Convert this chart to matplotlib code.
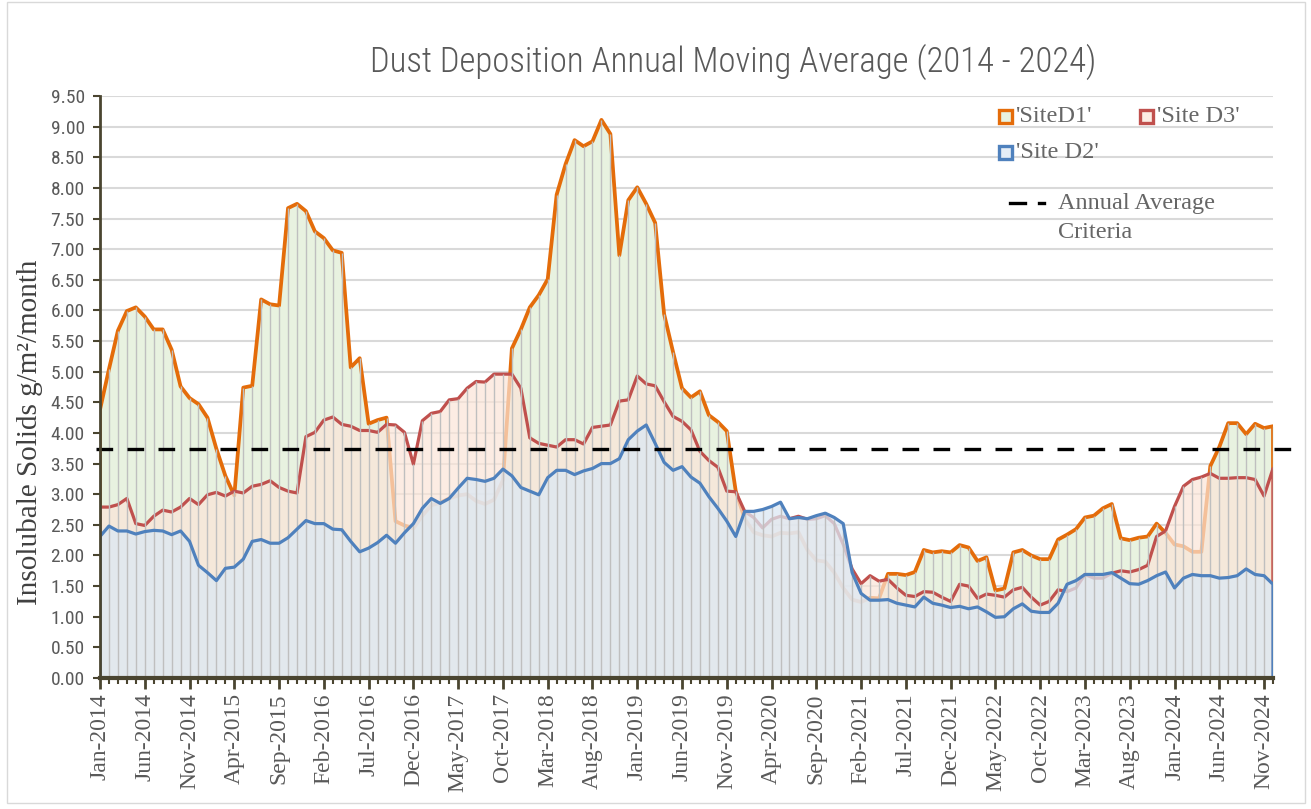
import matplotlib
matplotlib.use('Agg')
import matplotlib.pyplot as plt
from matplotlib import font_manager as fm
from matplotlib.patches import Rectangle
from matplotlib.lines import Line2D
import numpy as np

# ---------------- data (monthly, Jan-2014 .. Dec-2024) ----------------
site_d1 = [4.38, 5.04, 5.67, 5.99, 6.05, 5.90, 5.69, 5.69, 5.36, 4.76, 4.57, 4.47,
           4.25, 3.74, 3.30, 2.98, 4.74, 4.77, 6.18, 6.10, 6.08, 7.67, 7.74, 7.62,
           7.29, 7.18, 6.98, 6.94, 5.07, 5.22, 4.15, 4.21, 4.25, 2.56, 2.49, 2.44,
           2.65, 2.82, 2.86, 2.93, 2.98, 3.00, 2.89, 2.84, 2.91, 3.23, 5.38, 5.69,
           6.05, 6.25, 6.51, 7.89, 8.39, 8.78, 8.68, 8.76, 9.11, 8.88, 6.90, 7.80,
           8.01, 7.74, 7.43, 5.94, 5.32, 4.73, 4.58, 4.68, 4.29, 4.18, 4.03, 3.05,
           2.60, 2.38, 2.33, 2.31, 2.37, 2.36, 2.38, 2.09, 1.92, 1.90, 1.72, 1.47,
           1.28, 1.24, 1.31, 1.30, 1.70, 1.70, 1.68, 1.73, 2.09, 2.05, 2.07, 2.05,
           2.17, 2.13, 1.91, 1.97, 1.43, 1.46, 2.05, 2.09, 2.00, 1.94, 1.94, 2.26,
           2.34, 2.43, 2.62, 2.65, 2.77, 2.84, 2.28, 2.25, 2.29, 2.31, 2.52, 2.37,
           2.18, 2.15, 2.06, 2.06, 3.46, 3.77, 4.16, 4.16, 3.98, 4.15, 4.08, 4.11]

site_d3 = [2.79, 2.79, 2.83, 2.93, 2.52, 2.49, 2.64, 2.74, 2.71, 2.79, 2.93, 2.83,
           2.99, 3.03, 2.97, 3.05, 3.02, 3.13, 3.16, 3.22, 3.11, 3.05, 3.02, 3.94,
           4.01, 4.21, 4.26, 4.14, 4.11, 4.04, 4.04, 4.01, 4.14, 4.13, 4.01, 3.49,
           4.20, 4.32, 4.35, 4.54, 4.56, 4.73, 4.84, 4.83, 4.96, 4.96, 4.96, 4.73,
           3.92, 3.83, 3.80, 3.77, 3.89, 3.89, 3.82, 4.09, 4.11, 4.13, 4.52, 4.54,
           4.93, 4.80, 4.77, 4.51, 4.27, 4.19, 4.05, 3.70, 3.55, 3.44, 3.05, 3.04,
           2.72, 2.62, 2.45, 2.59, 2.64, 2.60, 2.64, 2.59, 2.60, 2.65, 2.52, 2.18,
           1.78, 1.54, 1.67, 1.58, 1.61, 1.47, 1.35, 1.33, 1.41, 1.40, 1.32, 1.25,
           1.53, 1.50, 1.30, 1.37, 1.35, 1.32, 1.44, 1.48, 1.32, 1.19, 1.25, 1.44,
           1.41, 1.47, 1.69, 1.63, 1.63, 1.71, 1.75, 1.73, 1.77, 1.84, 2.31, 2.40,
           2.80, 3.13, 3.24, 3.28, 3.34, 3.26, 3.26, 3.27, 3.27, 3.24, 2.97, 3.42]

site_d2 = [2.31, 2.48, 2.40, 2.40, 2.35, 2.39, 2.41, 2.40, 2.34, 2.40, 2.23, 1.84,
           1.72, 1.59, 1.79, 1.81, 1.94, 2.23, 2.26, 2.20, 2.20, 2.29, 2.43, 2.57,
           2.52, 2.52, 2.43, 2.42, 2.23, 2.06, 2.12, 2.21, 2.33, 2.20, 2.37, 2.52,
           2.77, 2.93, 2.85, 2.93, 3.10, 3.26, 3.24, 3.21, 3.26, 3.41, 3.30, 3.11,
           3.05, 2.99, 3.27, 3.39, 3.39, 3.32, 3.38, 3.42, 3.50, 3.50, 3.58, 3.89,
           4.03, 4.13, 3.83, 3.52, 3.39, 3.45, 3.28, 3.18, 2.96, 2.77, 2.56, 2.31,
           2.72, 2.72, 2.75, 2.80, 2.87, 2.60, 2.62, 2.60, 2.65, 2.69, 2.62, 2.52,
           1.72, 1.38, 1.27, 1.27, 1.28, 1.22, 1.19, 1.16, 1.32, 1.22, 1.19, 1.15,
           1.17, 1.13, 1.16, 1.08, 0.99, 1.00, 1.13, 1.21, 1.09, 1.07, 1.07, 1.22,
           1.53, 1.59, 1.69, 1.69, 1.69, 1.72, 1.63, 1.54, 1.53, 1.59, 1.67, 1.73,
           1.47, 1.63, 1.69, 1.67, 1.67, 1.63, 1.64, 1.67, 1.78, 1.69, 1.67, 1.53]

criteria = 3.73

tick_labels = ['Jan-2014', 'Jun-2014', 'Nov-2014', 'Apr-2015', 'Sep-2015', 'Feb-2016',
               'Jul-2016', 'Dec-2016', 'May-2017', 'Oct-2017', 'Mar-2018', 'Aug-2018',
               'Jan-2019', 'Jun-2019', 'Nov-2019', 'Apr-2020', 'Sep-2020', 'Feb-2021',
               'Jul-2021', 'Dec-2021', 'May-2022', 'Oct-2022', 'Mar-2023', 'Aug-2023',
               'Jan-2024', 'Jun-2024', 'Nov-2024']
tick_step = 5

# ---------------- fonts ----------------
names = {f.name for f in fm.fontManager.ttflist}
if 'Roboto Condensed' in names:
    NARROW = 'Roboto Condensed'
elif 'Liberation Sans Narrow' in names:
    NARROW = 'Liberation Sans Narrow'
else:
    NARROW = 'Roboto'
SERIF = 'Liberation Serif' if 'Liberation Serif' in names else 'DejaVu Serif'

W, H = 1311, 809
fig = plt.figure(figsize=(W / 100, H / 100), dpi=100)
fig.patch.set_facecolor('white')

def fx(px):
    return px / W

def fy(py):
    return 1 - py / H

ax = fig.add_axes([fx(100), fy(678), fx(1273) - fx(100), fy(96) - fy(678)])

x = np.arange(len(site_d1))
d1 = np.array(site_d1)
d3 = np.array(site_d3)
d2 = np.array(site_d2)

C1_LINE, C1_FILL = '#E46C0A', '#E8F2E0'
C3_LINE, C3_FILL = '#C0504D', '#FBE5D8'
C2_LINE, C2_FILL = '#4F81BD', '#DCE8F4'

xe = np.r_[x[0], x, x[-1]]

ax.fill_between(x, 0, d1, color=C1_FILL, lw=0, zorder=1)
ax.plot(xe, np.r_[0, d1, 0], color=C1_LINE, lw=2.7, zorder=2)
ax.fill_between(x, 0, d3, color=C3_FILL, alpha=0.7, lw=0, zorder=3)
ax.plot(xe, np.r_[0, d3, 0], color=C3_LINE, lw=2.3, zorder=4)
ax.fill_between(x, 0, d2, color=C2_FILL, alpha=0.75, lw=0, zorder=5)
top = np.maximum(np.maximum(d1, d3), d2)
ax.vlines(x, 0, top, color='#BFBFBF', lw=1.0, zorder=5.5)
ax.plot(xe, np.r_[0, d2, 0], color=C2_LINE, lw=2.3, zorder=6)

ax.plot([-0.4, 134.0], [criteria, criteria], color='black', lw=2.4,
        dashes=(5, 4.3), zorder=8, clip_on=False)

ax.set_xlim(0, len(x) - 1)
ax.set_ylim(0, 9.5)

AXC = '#4A4530'
ax.set_yticks(np.arange(0, 9.51, 0.5))
ax.set_yticklabels([f'{v:.2f}' for v in np.arange(0, 9.51, 0.5)],
                   family=NARROW, fontsize=14, color='#595959')
ax.set_xticks(np.arange(0, len(x), tick_step))
ax.set_xticklabels(tick_labels, rotation=90, family=SERIF, fontsize=17, color='#595959')
ax.set_xticks(x, minor=True)
ax.tick_params(axis='y', direction='out', length=5, width=1.5, color=AXC, pad=6)
ax.tick_params(axis='x', which='major', direction='out', length=8, width=2, color=AXC, pad=3)
ax.tick_params(axis='x', which='minor', direction='out', length=4, width=1.5, color=AXC)

ax.yaxis.grid(True, color='#D9D9D9', lw=1.5)
ax.set_axisbelow(True)
for s in ['top', 'right']:
    ax.spines[s].set_visible(False)
ax.spines['left'].set_color(AXC)
ax.spines['left'].set_linewidth(2)
ax.spines['bottom'].set_color(AXC)
ax.spines['bottom'].set_linewidth(3)
ax.spines['left'].set_zorder(9)
ax.spines['bottom'].set_zorder(9)

fig.text(fx(30), fy(432), 'Insolubale Solids g/m²/month', rotation=90, ha='center', va='center',
         family=SERIF, fontsize=21, color='#404040')

fig.text(fx(733), fy(62), 'Dust Deposition Annual Moving Average (2014 - 2024)', ha='center', va='center',
         family=NARROW, fontweight='light', fontsize=25, color='#595959')

# legend
def leg_box(px, py, edge, face):
    r = Rectangle((fx(px), fy(py + 13)), 13 / W, 13 / H, transform=fig.transFigure,
                  facecolor=face, edgecolor=edge, lw=2.4, zorder=10)
    fig.add_artist(r)

LEG_C = '#666666'
leg_box(999, 110, C1_LINE, '#E8F2E0')
fig.text(fx(1016), fy(117), "'SiteD1'", ha='left', va='center', family=SERIF, fontsize=17.5, color=LEG_C)
leg_box(1140, 110, C3_LINE, '#FCEDE4')
fig.text(fx(1157), fy(117), "'Site D3'", ha='left', va='center', family=SERIF, fontsize=17.5, color=LEG_C)
leg_box(999, 146, C2_LINE, '#E6EEF6')
fig.text(fx(1016), fy(153), "'Site D2'", ha='left', va='center', family=SERIF, fontsize=17.5, color=LEG_C)
fig.add_artist(Line2D([fx(1010), fx(1025)], [fy(203), fy(203)], transform=fig.transFigure,
                      color='black', lw=2.4))
fig.add_artist(Line2D([fx(1039), fx(1044)], [fy(203), fy(203)], transform=fig.transFigure,
                      color='black', lw=2.4))
fig.text(fx(1058), fy(203), 'Annual Average', ha='left', va='center', family=SERIF, fontsize=17.5, color=LEG_C)
fig.text(fx(1058), fy(232), 'Criteria', ha='left', va='center', family=SERIF, fontsize=17.5, color=LEG_C)

fig.add_artist(Rectangle((fx(7), fy(803)), fx(1305) - fx(7), fy(2) - fy(803), transform=fig.transFigure,
                         facecolor='none', edgecolor='#D9D9D9', lw=1))

fig.savefig('out.png', dpi=100)
